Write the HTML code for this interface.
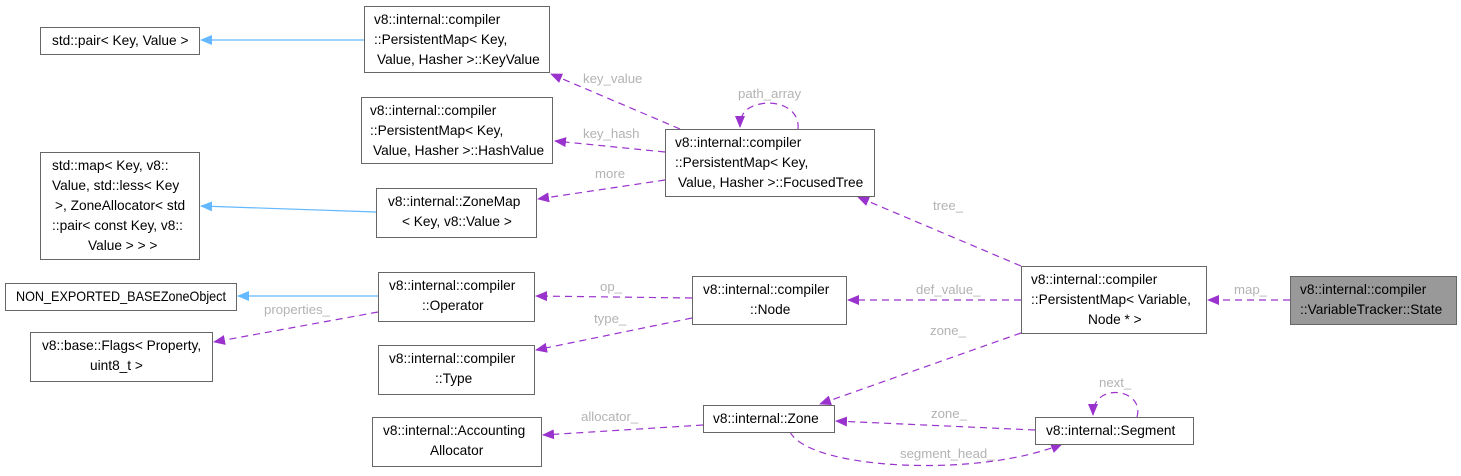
<!DOCTYPE html>
<html><head><meta charset="utf-8"><style>
html,body{margin:0;padding:0;background:#fff;}
svg{display:block;}
text{font-family:"Liberation Sans","DejaVu Sans",sans-serif;font-size:13.7px;fill:#000;}
.l{fill:#b3b3b3;font-size:13.2px;}
.b{fill:#fff;stroke:#666;stroke-width:1;}
.p{stroke:#9a32cd;stroke-width:1.2;fill:none;stroke-dasharray:7,5;}
.s{stroke:#63b8ff;stroke-width:1.2;fill:none;}
</style></head><body>
<svg width="1461" height="476" viewBox="0 0 1461 476">
<defs>
<marker id="ap" markerWidth="12" markerHeight="10" refX="11" refY="5" orient="auto" markerUnits="userSpaceOnUse"><path d="M0,0 L12,5 L0,10 z" fill="#9a32cd"/></marker>
<marker id="as" markerWidth="12" markerHeight="10" refX="11" refY="5" orient="auto" markerUnits="userSpaceOnUse"><path d="M0,0 L12,5 L0,10 z" fill="#63b8ff"/></marker>
</defs>

<line class="s" x1="364" y1="40" x2="201" y2="40" marker-end="url(#as)"/>
<line class="s" x1="376" y1="212" x2="201" y2="206" marker-end="url(#as)"/>
<line class="s" x1="378" y1="296" x2="238" y2="296" marker-end="url(#as)"/>

<line class="p" x1="680" y1="129" x2="551" y2="74" marker-end="url(#ap)"/>
<text class="l" x="583" y="83">key_value</text>
<line class="p" x1="665" y1="152" x2="555" y2="141" marker-end="url(#ap)"/>
<text class="l" x="583" y="138">key_hash</text>
<line class="p" x1="665" y1="180" x2="538" y2="199" marker-end="url(#ap)"/>
<text class="l" x="595" y="178">more</text>
<path class="p" d="M798,129 C800,110 780,100 760,104 C745,107 740,115 740,127" marker-end="url(#ap)"/>
<text class="l" x="738" y="98">path_array</text>
<line class="p" x1="1021" y1="266" x2="858" y2="197" marker-end="url(#ap)"/>
<text class="l" x="933" y="210">tree_</text>
<line class="p" x1="1021" y1="300" x2="848" y2="300" marker-end="url(#ap)"/>
<text class="l" x="916" y="294">def_value_</text>
<line class="p" x1="1290" y1="300" x2="1208" y2="300" marker-end="url(#ap)"/>
<text class="l" x="1234" y="294">map_</text>
<line class="p" x1="692" y1="298" x2="536" y2="296" marker-end="url(#ap)"/>
<text class="l" x="600" y="291">op_</text>
<line class="p" x1="692" y1="318" x2="536" y2="350" marker-end="url(#ap)"/>
<text class="l" x="594" y="323">type_</text>
<line class="p" x1="378" y1="312" x2="214" y2="342" marker-end="url(#ap)"/>
<text class="l" x="264" y="314">properties_</text>
<line class="p" x1="1021" y1="333" x2="820" y2="404" marker-end="url(#ap)"/>
<text class="l" x="930" y="335">zone_</text>
<line class="p" x1="1035" y1="430" x2="836" y2="421" marker-end="url(#ap)"/>
<text class="l" x="931" y="418">zone_</text>
<line class="p" x1="703" y1="425" x2="543" y2="435" marker-end="url(#ap)"/>
<text class="l" x="581" y="421">allocator_</text>
<path class="p" d="M790,432 C810,470 980,478 1062,444" marker-end="url(#ap)"/>
<text class="l" x="900" y="458">segment_head_</text>
<path class="p" d="M1137,417 C1142,400 1125,390 1110,393 C1097,396 1093,405 1093,415" marker-end="url(#ap)"/>
<text class="l" x="1099" y="387">next_</text>

<rect class="b" x="40.5" y="27.5" width="159" height="27"/>
<text x="52" y="45">std::pair&lt; Key, Value &gt;</text>

<rect class="b" x="364.5" y="6.5" width="185" height="66"/>
<text x="374" y="24">v8::internal::compiler</text>
<text x="374" y="44">::PersistentMap&lt; Key,</text>
<text x="377" y="64">Value, Hasher &gt;::KeyValue</text>

<rect class="b" x="361.5" y="97.5" width="191" height="66"/>
<text x="370" y="115">v8::internal::compiler</text>
<text x="370" y="135">::PersistentMap&lt; Key,</text>
<text x="373" y="155">Value, Hasher &gt;::HashValue</text>

<rect class="b" x="40.5" y="152.5" width="159" height="107"/>
<text x="52" y="170">std::map&lt; Key, v8::</text>
<text x="52" y="190">Value, std::less&lt; Key</text>
<text x="55" y="210">&gt;, ZoneAllocator&lt; std</text>
<text x="52" y="230">::pair&lt; const Key, v8::</text>
<text x="88" y="250">Value &gt; &gt; &gt;</text>

<rect class="b" x="376.5" y="188.5" width="160" height="49"/>
<text x="388" y="206">v8::internal::ZoneMap</text>
<text x="402" y="226">&lt; Key, v8::Value &gt;</text>

<rect class="b" x="665.5" y="129.5" width="209" height="67"/>
<text x="675" y="147">v8::internal::compiler</text>
<text x="675" y="167">::PersistentMap&lt; Key,</text>
<text x="678" y="187">Value, Hasher &gt;::FocusedTree</text>

<rect class="b" x="5.5" y="283.5" width="231" height="27"/>
<text x="16" y="301" textLength="210" lengthAdjust="spacingAndGlyphs">NON_EXPORTED_BASEZoneObject</text>

<rect class="b" x="378.5" y="272.5" width="156" height="49"/>
<text x="389" y="290">v8::internal::compiler</text>
<text x="422" y="310">::Operator</text>

<rect class="b" x="30.5" y="332.5" width="182" height="49"/>
<text x="42" y="350">v8::base::Flags&lt; Property,</text>
<text x="90" y="370">uint8_t &gt;</text>

<rect class="b" x="692.5" y="276.5" width="154" height="48"/>
<text x="703" y="294">v8::internal::compiler</text>
<text x="750" y="314">::Node</text>

<rect class="b" x="378.5" y="345.5" width="156" height="49"/>
<text x="389" y="363">v8::internal::compiler</text>
<text x="435" y="383">::Type</text>

<rect class="b" x="1021.5" y="266.5" width="185" height="67"/>
<text x="1031" y="284">v8::internal::compiler</text>
<text x="1031" y="304">::PersistentMap&lt; Variable,</text>
<text x="1088" y="324">Node * &gt;</text>

<rect x="1290.5" y="276.5" width="166" height="48" fill="#999" stroke="#666"/>
<text x="1300" y="294">v8::internal::compiler</text>
<text x="1300" y="314">::VariableTracker::State</text>

<rect class="b" x="372.5" y="417.5" width="169" height="49"/>
<text x="383" y="435">v8::internal::Accounting</text>
<text x="430" y="455">Allocator</text>

<rect class="b" x="703.5" y="405.5" width="131" height="27"/>
<text x="713" y="423">v8::internal::Zone</text>

<rect class="b" x="1035.5" y="417.5" width="158" height="27"/>
<text x="1046" y="435">v8::internal::Segment</text>
</svg>
</body></html>
